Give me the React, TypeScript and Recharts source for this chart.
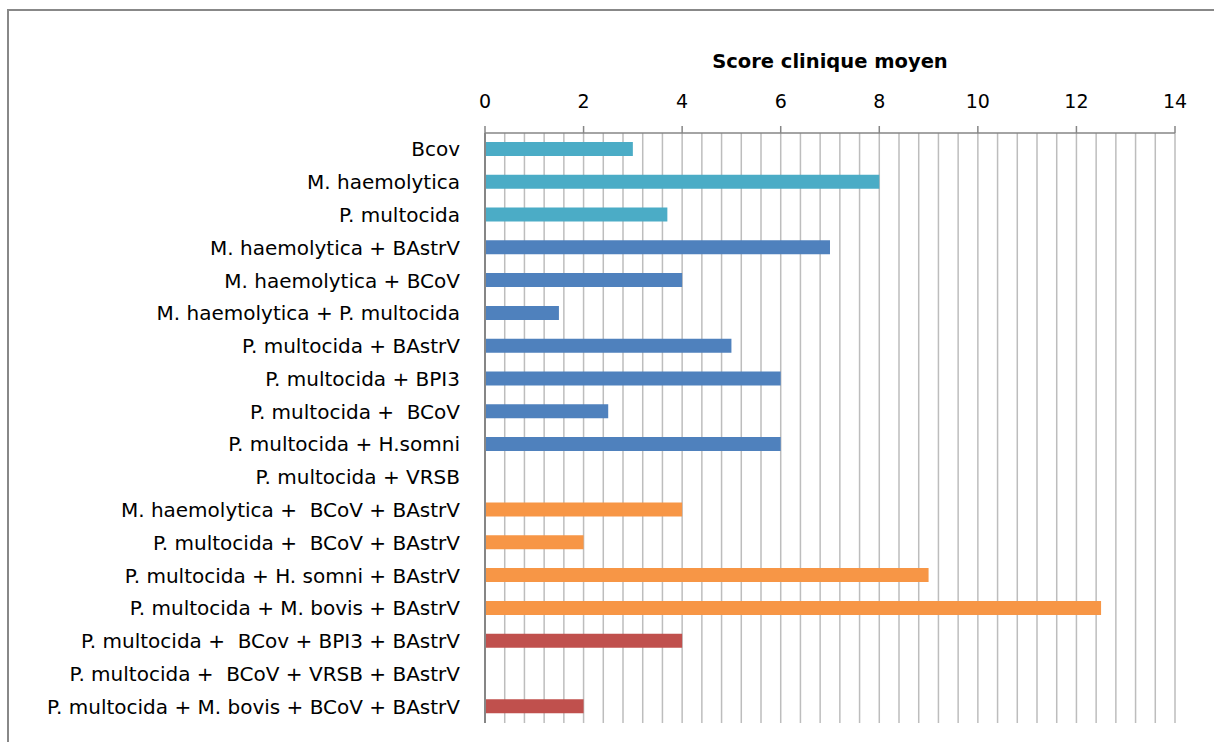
import { BarChart, Bar, XAxis, YAxis, CartesianGrid, Cell } from "recharts";

const categories = [
  "Bcov",
  "M. haemolytica",
  "P. multocida",
  "M. haemolytica + BAstrV",
  "M. haemolytica + BCoV",
  "M. haemolytica + P. multocida",
  "P. multocida + BAstrV",
  "P. multocida + BPI3",
  "P. multocida +  BCoV",
  "P. multocida + H.somni",
  "P. multocida + VRSB",
  "M. haemolytica +  BCoV + BAstrV",
  "P. multocida +  BCoV + BAstrV",
  "P. multocida + H. somni + BAstrV",
  "P. multocida + M. bovis + BAstrV",
  "P. multocida +  BCov + BPI3 + BAstrV",
  "P. multocida +  BCoV + VRSB + BAstrV",
  "P. multocida + M. bovis + BCoV + BAstrV",
];

const scores = [3, 8, 3.7, 7, 4, 1.5, 5, 6, 2.5, 6, 0, 4, 2, 9, 12.5, 4, 0, 2];

// 1 = single agent, 2 = two agents, 3 = three, 4 = four
const groups = [1, 1, 1, 2, 2, 2, 2, 2, 2, 2, 2, 3, 3, 3, 3, 4, 4, 4];

const groupColors: Record<number, string> = {
  1: "#4BACC6",
  2: "#4F81BD",
  3: "#F79646",
  4: "#C0504D",
};

const X_MAX = 14;
const xTicks = [0, 2, 4, 6, 8, 10, 12, 14];
// minor gridlines every 0.4
const gridValues = Array.from({ length: 36 }, (_, i) => +(i * 0.4).toFixed(1));

const FONT = "'DejaVu Sans', sans-serif";

// recharts collapses runs of spaces, keep the double ones visible
const keepSpaces = (s: string) => s.replace(/  /g, " \u00A0");

export default function App() {
  const data = categories.map((name, i) => ({
    name,
    score: scores[i],
    group: groups[i],
  }));

  return (
    <div
      style={{
        position: "absolute",
        left: 0,
        top: 0,
        width: 1214,
        height: 742,
        background: "#fff",
        overflow: "hidden",
        fontFamily: FONT,
      }}
    >
      <div
        style={{
          position: "absolute",
          left: 7,
          top: 9,
          width: 1300,
          height: 800,
          borderTop: "2px solid #888",
          borderLeft: "2px solid #888",
        }}
      />
      <div
        style={{
          position: "absolute",
          left: 630,
          width: 400,
          top: 50,
          textAlign: "center",
          fontSize: 19.5,
          fontWeight: 700,
          color: "#000",
        }}
      >
        Score clinique moyen
      </div>
      <div style={{ position: "absolute", left: 0, top: 0 }}>
        <BarChart
          width={1214}
          height={742}
          data={data}
          layout="vertical"
          margin={{ top: 93, right: 39, bottom: 19, left: 8 }}
          barSize={14}
        >
          <CartesianGrid
            horizontal={false}
            stroke="#bdbdbd"
            strokeWidth={1.5}
            verticalCoordinatesGenerator={({ offset }: any) =>
              gridValues.map((v) => offset.left + (v / X_MAX) * offset.width)
            }
          />
          <XAxis
            type="number"
            orientation="top"
            domain={[0, X_MAX]}
            ticks={xTicks}
            height={40}
            tickSize={7}
            tickMargin={18}
            axisLine={{ stroke: "#868686", strokeWidth: 1.5 }}
            tickLine={{ stroke: "#868686", strokeWidth: 1.5 }}
            tick={{ fontSize: 19, fill: "#000", fontFamily: FONT }}
            interval={0}
          />
          <YAxis
            type="category"
            dataKey="name"
            width={477}
            tickSize={0}
            tickMargin={25}
            tickLine={false}
            axisLine={{ stroke: "#868686", strokeWidth: 2 }}
            tickFormatter={keepSpaces}
            tick={{ fontSize: 20, fill: "#000", fontFamily: FONT }}
            interval={0}
          />
          <Bar dataKey="score" isAnimationActive={false}>
            {data.map((d, i) => (
              <Cell key={i} fill={groupColors[d.group]} />
            ))}
          </Bar>
        </BarChart>
      </div>
    </div>
  );
}
